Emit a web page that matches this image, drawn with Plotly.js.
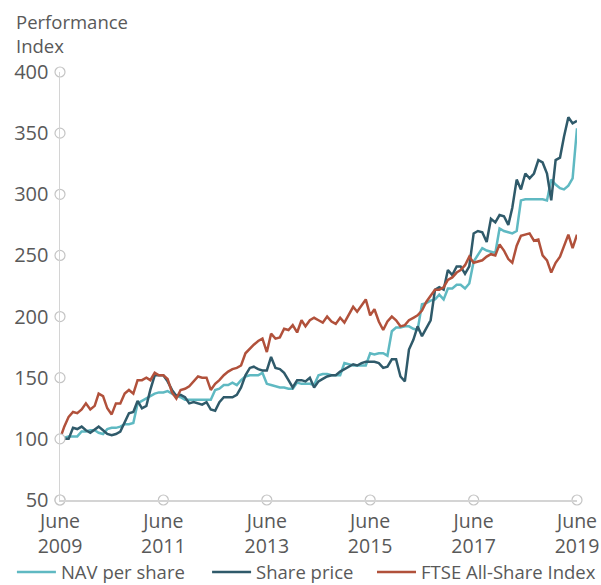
<!DOCTYPE html>
<html>
<head>
<meta charset="utf-8">
<script src="https://cdn.plot.ly/plotly-3.0.1.min.js"></script>
<style>html,body{margin:0;padding:0;background:#fff;}#chart{width:601px;height:585px;}</style>
</head>
<body>
<div id="chart"></div>
<script>
// Monthly observations, June 2009 .. June 2019 (121 months)
var startYear = 2009, startMonth = 6, monthCount = 121;
var months = [];
for (var i = 0; i < monthCount; i++) {
  var m = startMonth - 1 + i;
  var y = startYear + Math.floor(m / 12);
  var mm = (m % 12) + 1;
  months.push(y + '-' + (mm < 10 ? '0' + mm : mm) + '-01');
}

var navPerShare = [
  100,101,102,102,102,106,106,
  107,107,105,104,108,109,109,110,112,112,113,129,
  131,133,135,137,138,138,139,137,135,134,132,132,
  132,132,132,132,132,140,141,144,144,146,144,148,
  151,152,152,152,154,145,144,143,142,142,141,141,
  146,145,145,145,144,152,153,153,152,152,152,162,
  161,160,160,160,160,170,169,170,170,168,188,191,
  191,192,192,190,189,210,211,213,214,218,214,223,
  223,226,226,223,227,245,251,256,254,253,252,272,
  270,269,268,270,295,296,296,296,296,296,295,312,
  308,305,304,307,313,354
];
var sharePrice = [
  100,100,100,109,108,110,107,
  105,108,110,107,104,103,104,106,114,121,122,131,
  125,127,140,152,152,152,147,140,135,136,134,129,
  130,129,128,130,124,123,130,134,134,134,136,142,
  152,158,159,157,156,156,167,158,157,154,148,142,
  148,148,147,150,142,147,149,151,152,152,155,157,
  159,161,160,162,163,163,163,162,158,159,165,165,
  151,147,173,181,192,184,190,197,222,224,222,238,
  234,241,241,235,241,268,270,269,261,280,277,283,
  282,275,289,312,304,317,313,317,328,326,317,295,
  328,330,347,363,358,360
];
var ftseAllShare = [
  100,110,118,122,121,124,129,
  124,127,137,135,125,120,129,129,137,140,137,148,
  148,150,148,154,152,152,149,138,133,140,141,143,
  147,151,150,150,140,145,148,152,155,157,158,160,
  170,174,177,180,182,171,186,182,183,190,189,193,
  187,197,192,197,199,197,195,200,196,194,199,195,
  202,208,204,209,214,201,206,196,189,196,200,197,
  192,193,197,199,201,205,212,217,222,222,224,230,
  232,236,238,242,249,244,245,246,249,251,250,259,
  254,247,244,258,266,267,268,262,263,250,246,236,
  244,249,257,267,256,267
];

var yTicks = [50,100,150,200,250,300,350,400];
var xTickDates = ['2009-06-01','2011-06-01','2013-06-01','2015-06-01','2017-06-01','2019-06-01'];
var xTickLabels = ['June<br>2009','June<br>2011','June<br>2013','June<br>2015','June<br>2017','June<br>2019'];

var FONT = '"Open Sans", "Noto Sans", sans-serif';
var TXT = '#595959';
var AXIS = '#d4d4d4';

var traces = [
  {x: months, y: navPerShare, name: 'NAV per share', type: 'scatter', mode: 'lines', legend: 'legend',
   line: {color: '#5fb9c2', width: 2.5}},
  {x: months, y: sharePrice, name: 'Share price', type: 'scatter', mode: 'lines', legend: 'legend2',
   line: {color: '#2f5a6a', width: 2.5}},
  {x: months, y: ftseAllShare, name: 'FTSE All-Share Index', type: 'scatter', mode: 'lines', legend: 'legend3',
   line: {color: '#b1513b', width: 2.5}},
  // axis tick circles
  {x: yTicks.map(function(){return xTickDates[0];}), y: yTicks, type: 'scatter', mode: 'markers',
   showlegend: false, hoverinfo: 'skip', cliponaxis: false,
   marker: {size: 10, color: '#ffffff', line: {color: '#c4c4c4', width: 1.2}}},
  {x: xTickDates, y: xTickDates.map(function(){return yTicks[0];}), type: 'scatter', mode: 'markers',
   showlegend: false, hoverinfo: 'skip', cliponaxis: false,
   marker: {size: 10, color: '#ffffff', line: {color: '#c4c4c4', width: 1.2}}}
];

function legendAt(xp) {
  return {orientation: 'h', x: xp, xanchor: 'left', yref: 'container', y: 0.0214, yanchor: 'middle',
          font: {family: FONT, size: 18.5, color: TXT}, itemwidth: 39, bgcolor: 'rgba(0,0,0,0)'};
}

var layout = {
  width: 601, height: 585,
  margin: {l: 60, r: 24, t: 72, b: 85},
  paper_bgcolor: '#ffffff', plot_bgcolor: '#ffffff',
  font: {family: FONT, size: 18, color: TXT},
  showlegend: true,
  legend: legendAt(-0.093),
  legend2: legendAt(0.2845),
  legend3: legendAt(0.613),
  xaxis: {type: 'date', range: ['2009-06-01','2019-06-01'], showgrid: false, zeroline: false,
          showline: true, linecolor: AXIS, linewidth: 1.5,
          tickmode: 'array', tickvals: xTickDates, ticktext: xTickLabels,
          ticks: '', tickfont: {family: FONT, size: 19.5, color: TXT}, ticklabelstandoff: 3},
  yaxis: {range: [50, 400], showgrid: false, zeroline: false,
          showline: true, linecolor: AXIS, linewidth: 1.5,
          tickmode: 'array', tickvals: yTicks, ticks: '',
          tickfont: {family: FONT, size: 20, color: TXT}, ticklabelstandoff: 6},
  annotations: [{
    text: 'Performance<br>Index', xref: 'paper', yref: 'paper',
    x: -0.089, y: 1.153, xanchor: 'left', yanchor: 'top', align: 'left', showarrow: false,
    font: {family: FONT, size: 18.5, color: TXT}
  }]
};

Plotly.newPlot('chart', traces, layout, {displayModeBar: false, staticPlot: true});
</script>
</body>
</html>
